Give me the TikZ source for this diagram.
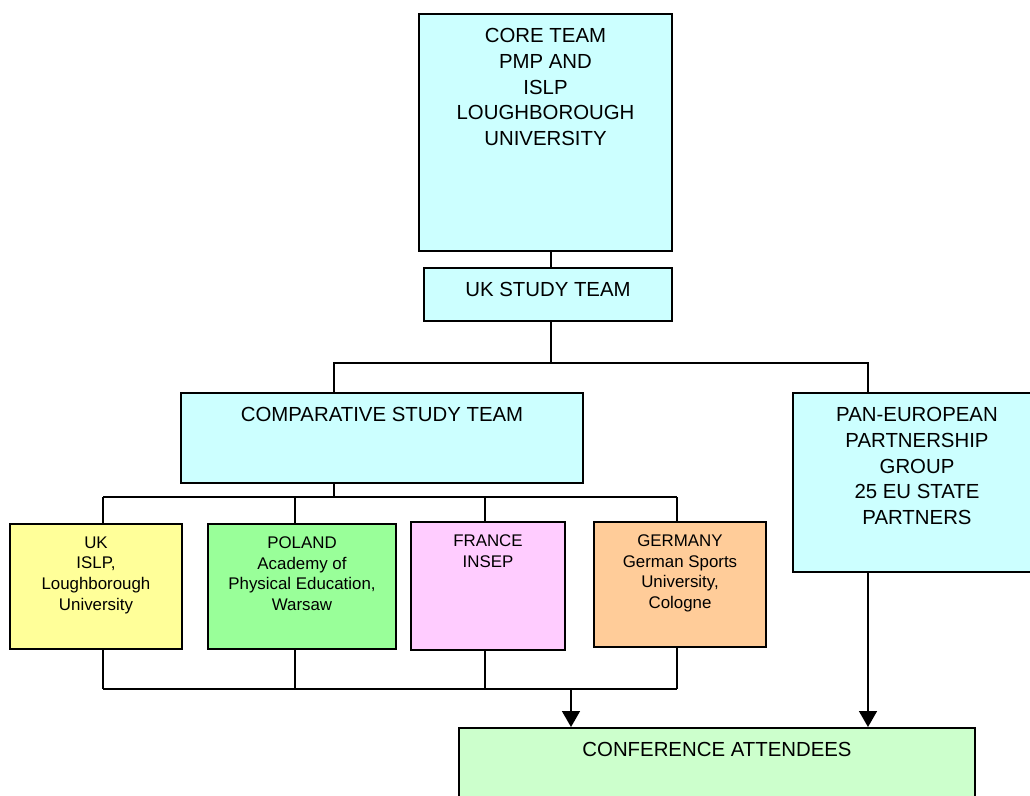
\documentclass[tikz,border=0pt]{standalone}
\usepackage{fontspec}
\setmainfont{Liberation Sans}
\usetikzlibrary{arrows.meta}
\definecolor{teamcyan}{HTML}{CCFFFF}
\definecolor{ukyellow}{HTML}{FFFF99}
\definecolor{plgreen}{HTML}{99FF99}
\definecolor{frpink}{HTML}{FFCCFF}
\definecolor{deorange}{HTML}{FFCC99}
\definecolor{confgreen}{HTML}{CCFFCC}
\tikzset{
  unit/.style={draw, line width=1.1pt, inner sep=0pt},
  bigtext/.style={label={[anchor=north, align=center, inner sep=0pt, yshift=-8.6pt,
      font=\fontsize{11.6}{14.6}\selectfont]north:{#1}}},
  smalltext/.style={label={[anchor=north, align=center, inner sep=0pt, yshift=-7.6pt,
      font=\fontsize{9.6}{11.7}\selectfont]north:{#1}}},
  link/.style={line width=1.2pt},
  arrowlink/.style={link, -{Triangle[width=10pt,length=9pt]}}
}
\begin{document}
\begin{tikzpicture}[x=0.02cm, y=-0.02cm]
        \useasboundingbox (0,0) rectangle (1030,795);
        \clip (0,0) rectangle (1030,795);
        \node[unit, fill=teamcyan, minimum width=5.06cm, minimum height=4.74cm,
          bigtext={CORE TEAM\\PMP AND\\ISLP\\LOUGHBOROUGH\\UNIVERSITY}] (core) at (545.5,132.5) {};
        \node[unit, fill=teamcyan, minimum width=4.96cm, minimum height=1.06cm,
          bigtext={UK STUDY TEAM}] (ukstudy) at (548,294.5) {};
        \node[unit, fill=teamcyan, minimum width=8.04cm, minimum height=1.80cm,
          bigtext={COMPARATIVE STUDY TEAM}] (comp) at (382,438) {};
        \node[unit, fill=teamcyan, minimum width=4.96cm, minimum height=3.58cm,
          bigtext={PAN-EUROPEAN\\PARTNERSHIP\\GROUP\\25 EU STATE\\PARTNERS}] (pan) at (917,482.5) {};
        \node[unit, fill=ukyellow, minimum width=3.44cm, minimum height=2.50cm,
          smalltext={UK\\ISLP,\\Loughborough\\University}] (uk) at (96,586.5) {};
        \node[unit, fill=plgreen, minimum width=3.76cm, minimum height=2.50cm,
          smalltext={POLAND\\Academy of\\Physical Education,\\Warsaw}] (poland) at (302,586.5) {};
        \node[unit, fill=frpink, minimum width=3.08cm, minimum height=2.56cm,
          smalltext={FRANCE\\INSEP}] (france) at (488,586) {};
        \node[unit, fill=deorange, minimum width=3.44cm, minimum height=2.50cm,
          smalltext={GERMANY\\German Sports\\University,\\Cologne}] (germany) at (680,584.5) {};
        \node[unit, fill=confgreen, minimum width=10.32cm, minimum height=2.4cm,
          bigtext={CONFERENCE ATTENDEES}] (conf) at (717,788) {};
        \coordinate (hub) at (551,363);
        \coordinate (lft) at (334,363);
        \coordinate (rgt) at (868,363);
        \coordinate (cbar) at (334,497);
        \coordinate (merge) at (571,689);
        \draw[link] (core.south -| hub) -- (ukstudy.north -| hub);
        \draw[link] (ukstudy.south -| hub) -- (hub);
        \draw[link] (comp.north -| lft) -- (lft) -- (rgt) -- (pan.north -| rgt);
        \draw[link] (comp.south -| cbar) -- (cbar);
        \draw[link] (103,497) -- (677,497);
        \draw[link] (103,689) -- (677,689);
        \foreach \c/\x in {uk/103, poland/295, france/485, germany/677} {
          \draw[link] (\x,497) -- (\c.north -| \x,0);
          \draw[link] (\c.south -| \x,0) -- (\x,689);
        }
        \draw[arrowlink] (merge) -- (conf.north -| merge);
        \draw[arrowlink] (pan.south -| rgt) -- (conf.north -| rgt);
\end{tikzpicture}
\end{document}
